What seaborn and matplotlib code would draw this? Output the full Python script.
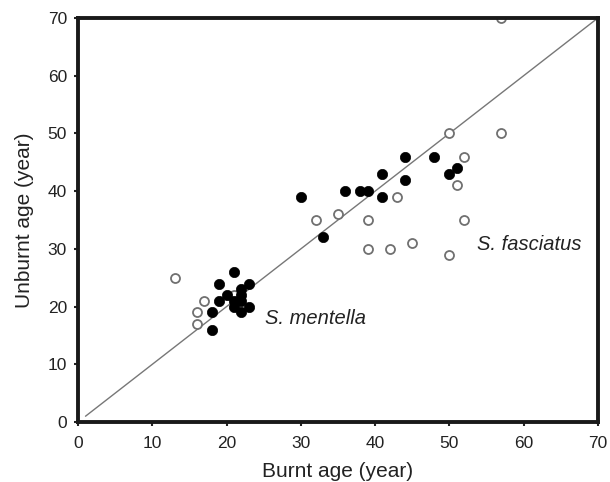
import matplotlib
matplotlib.use("Agg")
import matplotlib.pyplot as plt
import seaborn as sns
import pandas as pd

# S. mentella (filled)
mentella_burnt = [30, 33, 36, 38, 39, 41, 41, 44, 44, 48, 50, 51,
                  19, 21, 19, 20, 18, 18, 21, 22, 22, 23, 23, 22, 21, 22]
mentella_unburnt = [39, 32, 40, 40, 40, 43, 39, 46, 42, 46, 43, 44,
                    24, 26, 21, 22, 19, 16, 20, 23, 19, 24, 20, 21, 21, 22]

# S. fasciatus (open)
fasciatus_burnt = [13, 16, 16, 17, 21, 32, 35, 39, 39, 42, 43, 45, 50, 50,
                   51, 52, 52, 57, 57]
fasciatus_unburnt = [25, 19, 17, 21, 22, 35, 36, 35, 30, 30, 39, 31, 50, 29,
                     41, 46, 35, 50, 70]

x_ticks = [0, 10, 20, 30, 40, 50, 60, 70]
y_ticks = [0, 10, 20, 30, 40, 50, 60, 70]

sns.set_style("white")
plt.rcParams['font.family'] = ['Liberation Sans', 'DejaVu Sans']

fig = plt.figure(figsize=(6.10, 4.82), dpi=100)
ax = fig.add_axes([0.128, 0.1245, 0.852, 0.838])

# 1:1 line
ax.plot([1, 70], [1, 70], color="#777777", lw=1.0, zorder=1)

df_f = pd.DataFrame({"b": fasciatus_burnt, "u": fasciatus_unburnt})
df_m = pd.DataFrame({"b": mentella_burnt, "u": mentella_unburnt})

sns.scatterplot(data=df_f, x="b", y="u", ax=ax, s=42, facecolor="white",
                edgecolor="#707070", linewidth=1.3, zorder=2)
sns.scatterplot(data=df_m, x="b", y="u", ax=ax, s=55, color="black",
                edgecolor="black", linewidth=0.5, zorder=3)

ax.text(25.2, 18.0, "S. mentella", style="italic", fontsize=14.5,
        va="center", ha="left", color="#222222")
ax.text(53.7, 30.7, "S. fasciatus", style="italic", fontsize=14.5,
        va="center", ha="left", color="#222222")

ax.set_xlim(0, 70)
ax.set_ylim(0, 70)
ax.set_xticks(x_ticks)
ax.set_yticks(y_ticks)
ax.tick_params(axis="both", labelsize=12.5, colors="#222222", direction="out",
               length=3, width=1.5, bottom=True, left=True)
ax.tick_params(axis="x", pad=7)
ax.tick_params(axis="y", pad=5)
ax.set_xlabel("Burnt age (year)", fontsize=15, color="#222222", labelpad=8)
ax.set_ylabel("Unburnt age (year)", fontsize=15, color="#222222", labelpad=10)
for sp in ax.spines.values():
    sp.set_visible(True)
    sp.set_color("#1a1a1a")
    sp.set_linewidth(2.8)

fig.savefig("out.png", dpi=100)
